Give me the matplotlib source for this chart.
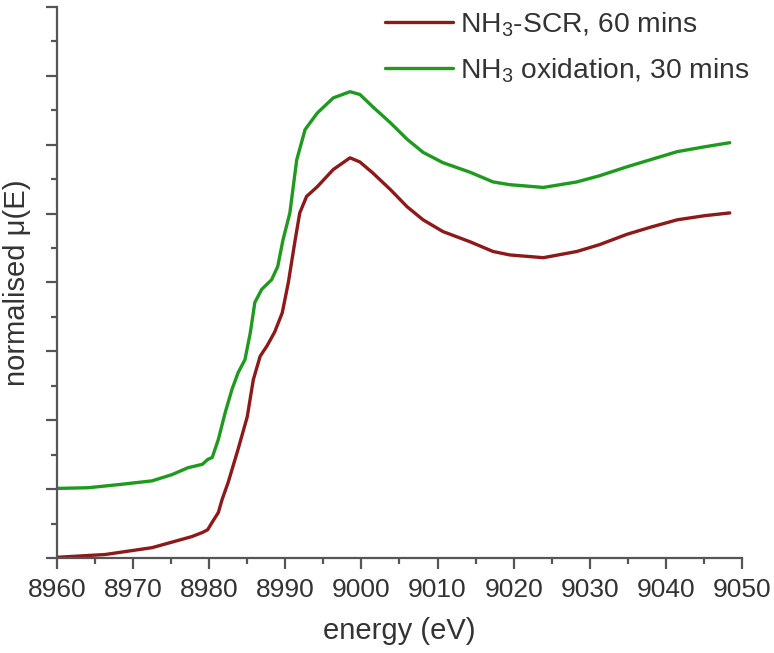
import matplotlib
matplotlib.use("Agg")
import matplotlib.pyplot as plt
from matplotlib.ticker import MultipleLocator

plt.rcParams['font.family'] = ['Liberation Sans', 'DejaVu Sans']
plt.rcParams['mathtext.fontset'] = 'custom'
plt.rcParams['mathtext.rm'] = 'Liberation Sans'

energy_scr = [8960.0, 8966.3, 8972.5, 8975.1, 8977.7, 8979.1, 8979.8, 8980.4, 8981.2, 8981.7,
              8982.5, 8983.8, 8985.0, 8985.8, 8986.7, 8987.6, 8988.6, 8989.6, 8990.4, 8991.3,
              8991.9, 8992.8, 8994.2, 8996.3, 8998.5, 8999.8, 9001.5, 9003.8, 9006.0, 9008.1,
              9010.7, 9014.3, 9017.3, 9019.5, 9023.9, 9028.3, 9031.3, 9034.9, 9037.9, 9041.5,
              9045.1, 9048.4]
mu_scr = [0.01, 0.05, 0.15, 0.23, 0.31, 0.37, 0.41, 0.52, 0.66, 0.85,
          1.10, 1.58, 2.05, 2.59, 2.93, 3.08, 3.28, 3.56, 4.00, 4.62,
          5.01, 5.25, 5.39, 5.64, 5.81, 5.75, 5.59, 5.35, 5.10, 4.91,
          4.74, 4.59, 4.45, 4.40, 4.36, 4.45, 4.55, 4.70, 4.80, 4.91,
          4.97, 5.01]

energy_ox = [8960.0, 8964.1, 8968.5, 8972.5, 8975.1, 8977.2, 8979.1, 8979.8, 8980.4, 8981.2,
             8982.1, 8983.0, 8983.8, 8984.7, 8985.4, 8986.0, 8986.9, 8988.2, 8989.0, 8989.7,
             8990.6, 8991.5, 8992.6, 8994.2, 8996.3, 8998.5, 8999.8, 9001.5, 9003.8, 9006.0,
             9008.1, 9010.7, 9014.3, 9017.3, 9019.5, 9023.9, 9028.3, 9031.3, 9034.9, 9037.9,
             9041.5, 9045.1, 9048.4]
mu_ox = [1.01, 1.02, 1.07, 1.12, 1.21, 1.31, 1.36, 1.43, 1.46, 1.72,
         2.11, 2.45, 2.69, 2.88, 3.27, 3.71, 3.90, 4.04, 4.23, 4.62,
         5.01, 5.78, 6.22, 6.46, 6.68, 6.77, 6.73, 6.55, 6.32, 6.08,
         5.89, 5.74, 5.60, 5.46, 5.42, 5.38, 5.46, 5.55, 5.68, 5.78,
         5.90, 5.97, 6.03]

labels = [r'NH$_3$-SCR, 60 mins', r'NH$_3$ oxidation, 30 mins']
colors = ['#8c1a1a', '#1f9a1f']
xticks = [8960, 8970, 8980, 8990, 9000, 9010, 9020, 9030, 9040, 9050]

fig = plt.figure(figsize=(7.74, 6.53), dpi=100)
ax = fig.add_axes([0.0736, 0.1455, 0.885, 0.8438])

ax.plot(energy_scr, mu_scr, color=colors[0], lw=2.4, label=labels[0],
        solid_capstyle='round', solid_joinstyle='round')
ax.plot(energy_ox, mu_ox, color=colors[1], lw=2.4, label=labels[1],
        solid_capstyle='round', solid_joinstyle='round')

ax.set_xlim(8960, 9050)
ax.set_ylim(0, 8)
ax.set_xticks(xticks)
ax.set_xticklabels([str(t) for t in xticks])
ax.xaxis.set_minor_locator(MultipleLocator(5))
ax.yaxis.set_major_locator(MultipleLocator(1))
ax.yaxis.set_minor_locator(MultipleLocator(0.5))
ax.set_yticklabels([])

for s in ['top', 'right']:
    ax.spines[s].set_visible(False)
for s in ['left', 'bottom']:
    ax.spines[s].set_linewidth(1.6)
    ax.spines[s].set_color('#555555')

ax.tick_params(which='major', direction='out', length=8, width=1.6, color='#555555',
               labelsize=19, labelcolor='#333333', pad=6.5)
ax.tick_params(which='minor', direction='out', length=4.5, width=1.6, color='#555555')

ax.set_xlabel('energy (eV)', fontsize=21, color='#333333', labelpad=11)
ax.set_ylabel('normalised \u03bc(E)', fontsize=21, color='#333333', labelpad=4)

leg = ax.legend(loc='upper left', bbox_to_anchor=(385 / 774, 1 - 10 / 653),
                bbox_transform=fig.transFigure, frameon=False, fontsize=20.3,
                handlelength=2.4, handletextpad=0.25, labelspacing=0.6,
                borderpad=0, borderaxespad=0)
for t in leg.get_texts():
    t.set_color('#333333')

fig.savefig('out.png', dpi=100)
